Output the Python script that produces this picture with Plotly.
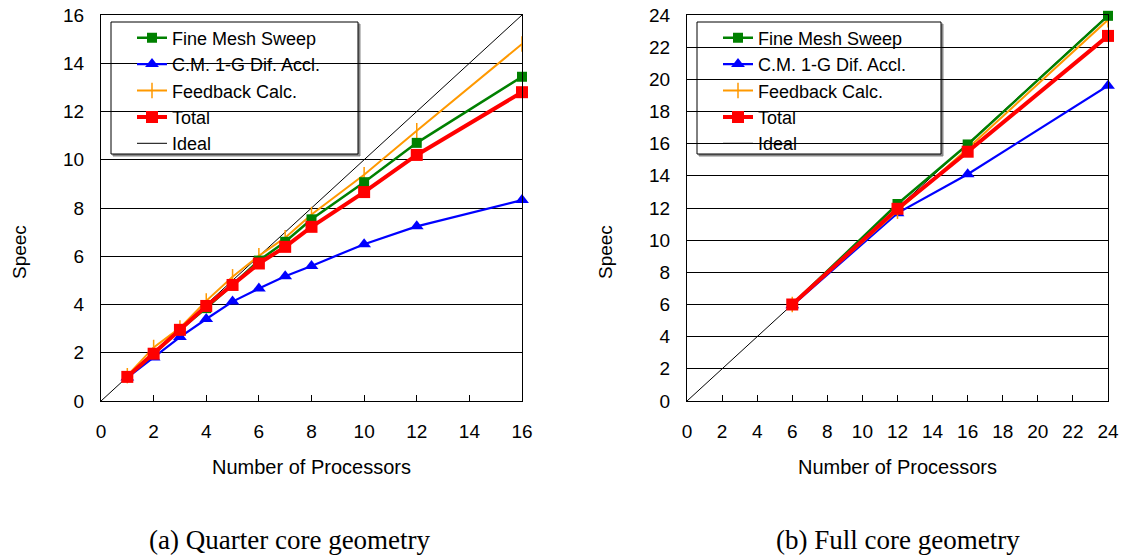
import plotly.graph_objects as go

# ---- Data: (a) Quarter core geometry ----
procs_a = [1, 2, 3, 4, 5, 6, 7, 8, 10, 12, 16]
fine_a = [1.0, 1.95, 2.95, 3.85, 4.82, 5.82, 6.6, 7.53, 9.07, 10.7, 13.44]
cm_a = [0.97, 1.8, 2.65, 3.4, 4.12, 4.66, 5.17, 5.6, 6.5, 7.24, 8.33]
feed_a = [1.05, 2.22, 3.03, 4.15, 5.15, 6.02, 6.77, 7.73, 9.38, 11.2, 14.8]
total_a = [1.0, 1.96, 2.95, 3.94, 4.81, 5.7, 6.39, 7.22, 8.66, 10.2, 12.8]
ideal_a_x = [0, 16]
ideal_a_y = [0, 16]

# ---- Data: (b) Full core geometry ----
procs_b = [6, 12, 16, 24]
fine_b = [6.0, 12.25, 15.95, 23.95]
cm_b = [5.95, 11.68, 14.1, 19.6]
feed_b = [6.0, 11.8, 15.7, 23.7]
total_b = [6.0, 11.95, 15.5, 22.7]
ideal_b_x = [0, 24]
ideal_b_y = [0, 24]

series_names = ["Fine Mesh Sweep", "C.M. 1-G Dif. Accl.", "Feedback Calc.", "Total", "Ideal"]
x_ticks_a = list(range(0, 17, 2))
x_ticks_b = list(range(0, 25, 2))
captions = ["(a) Quarter core geometry", "(b) Full core geometry"]

GREEN = "#008000"
BLUE = "#0000FF"
ORANGE = "#FF9900"
RED = "#FF0000"
FONT = "Liberation Sans, Arial, sans-serif"

fig = go.Figure()


def add_panel(xa, ya, leg, px, fine, cm, feed, total, ix, iy):
    common = dict(xaxis=xa, yaxis=ya, legend=leg, cliponaxis=False)
    fig.add_trace(go.Scatter(x=ix, y=iy, mode="lines", name=series_names[4],
                             line=dict(color="black", width=1), legendrank=5, **common))
    fig.add_trace(go.Scatter(x=px, y=cm, mode="lines+markers", name=series_names[1],
                             line=dict(color=BLUE, width=2.2),
                             marker=dict(symbol="triangle-up", size=12, color=BLUE),
                             legendrank=2, **common))
    fig.add_trace(go.Scatter(x=px, y=feed, mode="lines+markers", name=series_names[2],
                             line=dict(color=ORANGE, width=2),
                             marker=dict(symbol="line-ns-open", size=11,
                                         line=dict(color=ORANGE, width=1.5)),
                             legendrank=3, **common))
    fig.add_trace(go.Scatter(x=px, y=fine, mode="lines+markers", name=series_names[0],
                             line=dict(color=GREEN, width=2.5),
                             marker=dict(symbol="square", size=10, color=GREEN),
                             legendrank=1, **common))
    fig.add_trace(go.Scatter(x=px, y=total, mode="lines+markers", name=series_names[3],
                             line=dict(color=RED, width=4),
                             marker=dict(symbol="square", size=12, color=RED),
                             legendrank=4, **common))


add_panel("x", "y", "legend", procs_a, fine_a, cm_a, feed_a, total_a, ideal_a_x, ideal_a_y)
add_panel("x2", "y2", "legend2", procs_b, fine_b, cm_b, feed_b, total_b, ideal_b_x, ideal_b_y)

W, H = 1125, 559
y_dom = [1 - 401 / H, 1 - 15 / H]

xcommon = dict(showline=True, linecolor="black", linewidth=1, mirror=True,
               ticks="inside", ticklen=6, tickcolor="black", showgrid=False,
               zeroline=False, tickfont=dict(family=FONT, size=19, color="black"),
               ticklabelstandoff=13, automargin=False)
ycommon = dict(showline=True, linecolor="black", linewidth=1, mirror=True,
               ticks="", showgrid=True, gridcolor="black", gridwidth=1,
               zeroline=False, tickfont=dict(family=FONT, size=19, color="black"),
               ticklabelstandoff=12, automargin=False)

legend_common = dict(bgcolor="rgba(0,0,0,0)", borderwidth=0,
                     font=dict(family=FONT, size=18, color="black"),
                     xanchor="left", yanchor="top", tracegroupgap=0)

fig.update_layout(
    width=W, height=H,
    autosize=False,
    margin=dict(l=0, r=0, t=0, b=0, pad=0, autoexpand=False),
    paper_bgcolor="white", plot_bgcolor="white",
    xaxis=dict(domain=[101 / W, 522 / W], range=[0, 16], tickvals=x_ticks_a, **xcommon),
    yaxis=dict(domain=y_dom, range=[0, 16], dtick=2, **ycommon),
    xaxis2=dict(domain=[687 / W, 1108 / W], range=[0, 24], tickvals=x_ticks_b, anchor="y2", **xcommon),
    yaxis2=dict(domain=y_dom, range=[0, 24], dtick=2, anchor="x2", **ycommon),
    legend=dict(x=132 / W, y=1 - 19.5 / H, **legend_common),
    legend2=dict(x=718 / W, y=1 - 19.5 / H, **legend_common),
    showlegend=True,
)

# legend boxes (white background with black frame and light shadow)
for (x0, x1) in [(111, 358), (697, 941)]:
    fig.add_shape(type="rect", xref="paper", yref="paper",
                  x0=(x0 + 2) / W, x1=(x1 + 2) / W, y0=1 - 156 / H, y1=1 - 24 / H,
                  line=dict(color="#888888", width=1), fillcolor="#888888", layer="between")
    fig.add_shape(type="rect", xref="paper", yref="paper",
                  x0=x0 / W, x1=x1 / W, y0=1 - 154 / H, y1=1 - 22 / H,
                  line=dict(color="black", width=1), fillcolor="white", layer="between")

# axis titles
for xc in [311.5, 897.5]:
    fig.add_annotation(text="Number of Processors", xref="paper", yref="paper",
                       x=xc / W, y=1 - 467 / H, xanchor="center", yanchor="middle",
                       showarrow=False, font=dict(family=FONT, size=20, color="black"))
for xc in [19, 605]:
    fig.add_annotation(text="Speec", xref="paper", yref="paper",
                       x=xc / W, y=1 - 252 / H, xanchor="center", yanchor="middle",
                       textangle=-90, showarrow=False,
                       font=dict(family=FONT, size=19, color="black"))

# captions
for xc, cap in zip([290, 898], captions):
    fig.add_annotation(text=cap, xref="paper", yref="paper",
                       x=xc / W, y=1 - 540 / H, xanchor="center", yanchor="middle",
                       showarrow=False,
                       font=dict(family="Liberation Serif, Times New Roman, serif", size=27, color="black"))

fig.write_html(
    "out.html",
    config={"displayModeBar": False},
    post_script="document.body.style.margin='0px';document.body.style.overflow='hidden';",
)
